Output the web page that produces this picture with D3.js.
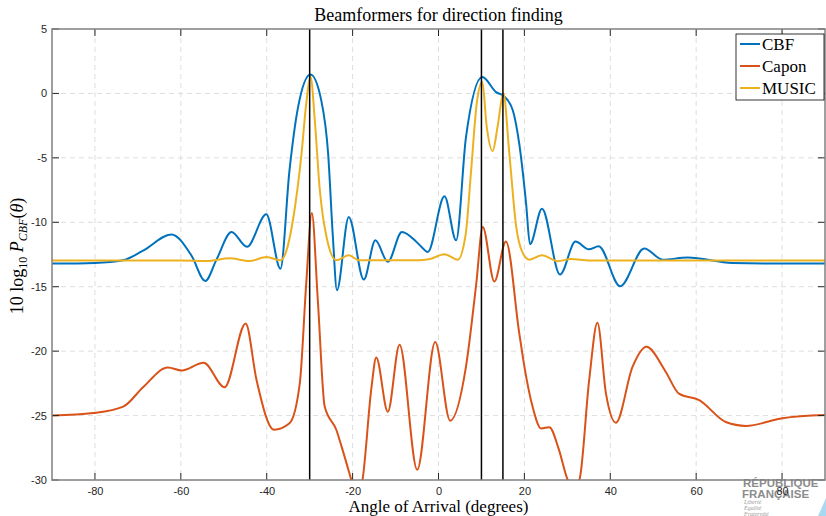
<!DOCTYPE html>
<html>
<head>
<meta charset="utf-8">
<script src="https://cdn.jsdelivr.net/npm/d3@7/dist/d3.min.js"></script>
<style>
  html, body { margin: 0; padding: 0; background: #fff; }
  svg { display: block; }
</style>
</head>
<body>
<svg id="chart" width="826" height="516"></svg>
<script>
// ---------------- data ----------------
const xTicks = [-80, -60, -40, -20, 0, 20, 40, 60, 80];
const yTicks = [-30, -25, -20, -15, -10, -5, 0, 5];
const sourceAngles = [-30, 10, 15];
const seriesNames = ["CBF", "Capon", "MUSIC"];

const cbfAngle = [-90, -80, -73.5, -68.8, -62.2, -57.5, -54.3, -51.7, -48.2, -44.6, -40.1, -36.8, -34.7, -32.7, -29.8, -27.3, -25.7, -24.6, -23.65, -20.9, -17.4, -14.7, -11.8, -8.53, -5.2, -4.0, -2.5, 1.4, 4.1, 6.4, 10.2, 13.4, 15.3, 17.3, 18.8, 20.4, 21.3, 24.1, 28.3, 31.9, 35.0, 37.3, 42.3, 47.9, 52.2, 58.0, 68.4, 80, 90];
const cbfValue = [-13.2, -13.15, -12.95, -12.2, -10.95, -12.6, -14.55, -12.9, -10.75, -11.9, -9.38, -13.6, -5.97, -1.06, 1.47, -0.54, -4.67, -11.1, -15.27, -9.59, -14.44, -11.4, -13.07, -10.75, -11.5, -11.9, -12.3, -7.98, -11.4, -3.4, 1.27, 0.1, -0.23, -1.3, -3.9, -8.55, -11.7, -8.94, -14.06, -11.5, -12.1, -11.86, -14.96, -12.04, -12.9, -12.74, -13.15, -13.2, -13.2];

const caponAngle = [-90, -80.4, -73.4, -68.8, -63, -59.8, -54.7, -49.8, -44.9, -42.4, -38.3, -34.7, -32.3, -30.8, -29.5, -28.1, -26.5, -23.8, -22.3, -20.3, -19, -17.7, -15.6, -14.5, -11.8, -9.07, -4.96, -0.77, 2.7, 6.4, 8.8, 10.3, 13.0, 15.7, 18.8, 20, 21.9, 23.9, 25.8, 28.0, 30.1, 31.4, 32.8, 35.1, 37.0, 39.0, 41.3, 45.2, 48.4, 52.9, 56.0, 60.7, 66.9, 71.6, 80.1, 90];
const caponValue = [-25.0, -24.8, -24.3, -22.8, -21.27, -21.5, -20.9, -22.8, -17.85, -22.2, -26.1, -25.6, -22.5, -14.75, -9.28, -16.05, -24.3, -26.1, -27.7, -30, -31.5, -30, -22.8, -20.5, -24.7, -19.5, -29.2, -19.3, -25.4, -21.2, -14.75, -10.36, -14.6, -11.5, -18.6, -21.2, -24.3, -26.0, -25.9, -27.6, -30, -30.6, -30, -22.2, -17.8, -23.3, -25.55, -21.2, -19.66, -21.6, -23.3, -23.8, -25.5, -25.8, -25.2, -24.96];

const musicAngle = [-90, -60, -54, -48.6, -44, -40, -36.8, -35.5, -33.9, -31.9, -30.8, -29.8, -28.8, -27.7, -26.1, -23.8, -20.9, -18.5, -5, -2, 1.4, 4.5, 6.3, 7.6, 8.9, 10.2, 11.2, 12.6, 13.8, 15.1, 16.5, 18.1, 19.5, 21.2, 24.1, 27.7, 30.9, 35, 90];
const musicValue = [-12.97, -12.97, -13.0, -12.8, -13.0, -12.7, -12.95, -12.3, -9.84, -4.68, -0.8, 1.3, -2.1, -7.26, -11.1, -12.95, -12.56, -12.95, -12.95, -12.85, -12.48, -12.9, -11.0, -5.97, -0.8, 0.9, -2.5, -4.47, -2.5, 0.02, -4.68, -10.36, -12.3, -12.9, -12.56, -13.02, -12.85, -12.97, -12.97];

// ---------------- layout ----------------
const colors = { CBF: "#0072BD", Capon: "#D95319", MUSIC: "#EDB120" };
const plot = { left: 52, right: 825, top: 29, bottom: 480 };
const svg = d3.select("#chart");

const x = d3.scaleLinear().domain([-90, 90]).range([plot.left, plot.right]);
const y = d3.scaleLinear().domain([-30, 5]).range([plot.bottom, plot.top]);

// watermark (behind the axes)
const wm = svg.append("g");
wm.append("text").attr("x", 743).attr("y", 487).text("RÉPUBLIQUE")
  .attr("font-family", "Liberation Sans, Arial, sans-serif").attr("font-weight", "bold")
  .attr("font-size", 11.5).attr("fill", "#8c8c8c");
wm.append("text").attr("x", 742).attr("y", 497.5).text("FRANÇAISE")
  .attr("font-family", "Liberation Sans, Arial, sans-serif").attr("font-weight", "bold")
  .attr("font-size", 11.5).attr("fill", "#8c8c8c");
[["Liberté", 504], ["Égalité", 510], ["Fraternité", 516]].forEach(([t, yy]) => {
  wm.append("text").attr("x", 744).attr("y", yy).text(t)
    .attr("font-family", "Liberation Serif, serif").attr("font-style", "italic")
    .attr("font-size", 6).attr("fill", "#9a9a9a");
});
wm.append("path").attr("d", "M826,498 L826,516 L818,516 Z").attr("fill", "#a8d8f2");

// clip
svg.append("defs").append("clipPath").attr("id", "clip")
  .append("rect").attr("x", plot.left).attr("y", plot.top)
  .attr("width", plot.right - plot.left).attr("height", plot.bottom - plot.top);

// grid
const grid = svg.append("g").attr("stroke", "#dedede").attr("stroke-width", 1)
  .attr("stroke-dasharray", "5,4");
xTicks.forEach(t => grid.append("line").attr("x1", x(t)).attr("x2", x(t))
  .attr("y1", plot.top).attr("y2", plot.bottom));
yTicks.filter(t => t > -30 && t < 5).forEach(t => grid.append("line")
  .attr("x1", plot.left).attr("x2", plot.right).attr("y1", y(t)).attr("y2", y(t)));

// series
const line = d3.line().x(d => x(d[0])).y(d => y(d[1])).curve(d3.curveMonotoneX);
const series = [
  { name: "CBF", data: d3.zip(cbfAngle, cbfValue) },
  { name: "Capon", data: d3.zip(caponAngle, caponValue) },
  { name: "MUSIC", data: d3.zip(musicAngle, musicValue) }
];
const curves = svg.append("g").attr("clip-path", "url(#clip)");
series.forEach(s => curves.append("path").attr("d", line(s.data))
  .attr("fill", "none").attr("stroke", colors[s.name]).attr("stroke-width", 2)
  .attr("stroke-linejoin", "round"));

// source lines
sourceAngles.forEach(a => svg.append("line").attr("x1", x(a)).attr("x2", x(a))
  .attr("y1", plot.top).attr("y2", plot.bottom).attr("stroke", "#000").attr("stroke-width", 1.5));

// axes
const tickFont = "Liberation Sans, Arial, Helvetica, sans-serif";
const axB = svg.append("g").attr("transform", `translate(0,${plot.bottom})`)
  .call(d3.axisBottom(x).tickValues(xTicks).tickSize(0).tickPadding(7).tickFormat(d3.format("d")));
const axL = svg.append("g").attr("transform", `translate(${plot.left},0)`)
  .call(d3.axisLeft(y).tickValues(yTicks).tickSize(0).tickPadding(5).tickFormat(d3.format("d")));
[axB, axL].forEach(a => {
  a.select(".domain").remove();
  a.selectAll("text").attr("font-family", tickFont).attr("font-size", 11).attr("fill", "#262626");
});
axL.selectAll("text").text(d => d < 0 ? "-" + Math.abs(d) : d);
axB.selectAll("text").text(d => d < 0 ? "-" + Math.abs(d) : d);

// ticks inward on all four sides
const tk = svg.append("g").attr("stroke", "#262626").attr("stroke-width", 1);
xTicks.forEach(t => {
  tk.append("line").attr("x1", x(t)).attr("x2", x(t)).attr("y1", plot.bottom).attr("y2", plot.bottom - 7);
  tk.append("line").attr("x1", x(t)).attr("x2", x(t)).attr("y1", plot.top).attr("y2", plot.top + 7);
});
yTicks.forEach(t => {
  tk.append("line").attr("x1", plot.left).attr("x2", plot.left + 7).attr("y1", y(t)).attr("y2", y(t));
  tk.append("line").attr("x1", plot.right).attr("x2", plot.right - 7).attr("y1", y(t)).attr("y2", y(t));
});

// box
svg.append("rect").attr("x", plot.left).attr("y", plot.top)
  .attr("width", plot.right - plot.left).attr("height", plot.bottom - plot.top)
  .attr("fill", "none").attr("stroke", "#808080").attr("stroke-width", 1.5);

// title and labels
const serif = "Liberation Serif, Times New Roman, serif";
svg.append("text").attr("x", x(0)).attr("y", 21).attr("text-anchor", "middle")
  .attr("font-family", serif).attr("font-size", 18).attr("fill", "#000")
  .text("Beamformers for direction finding");
svg.append("text").attr("x", x(0)).attr("y", 511.5).attr("text-anchor", "middle")
  .attr("font-family", serif).attr("font-size", 17).attr("fill", "#000")
  .text("Angle of Arrival (degrees)");

const yl = svg.append("text").attr("transform", `translate(23,256) rotate(-90)`)
  .attr("text-anchor", "middle").attr("font-family", serif).attr("font-size", 18).attr("fill", "#000");
yl.append("tspan").text("10 log");
yl.append("tspan").attr("font-size", 12).attr("dy", 4).text("10");
yl.append("tspan").attr("dy", -4).attr("font-style", "italic").text(" P");
yl.append("tspan").attr("font-size", 12).attr("dy", 4).attr("font-style", "italic").text("CBF");
yl.append("tspan").attr("dy", -4).text("(");
yl.append("tspan").attr("font-style", "italic").text("θ");
yl.append("tspan").text(")");

// legend
const lg = svg.append("g");
lg.append("rect").attr("x", 736).attr("y", 34).attr("width", 88).attr("height", 66)
  .attr("fill", "#fff").attr("stroke", "#000").attr("stroke-width", 0.8);
seriesNames.forEach((n, i) => {
  const yy = 44 + i * 22;
  lg.append("line").attr("x1", 740).attr("x2", 760).attr("y1", yy).attr("y2", yy)
    .attr("stroke", colors[n]).attr("stroke-width", 2);
  lg.append("text").attr("x", 762).attr("y", yy + 5.5).attr("font-family", serif)
    .attr("font-size", 17).attr("fill", "#000").text(n);
});
</script>
</body>
</html>
